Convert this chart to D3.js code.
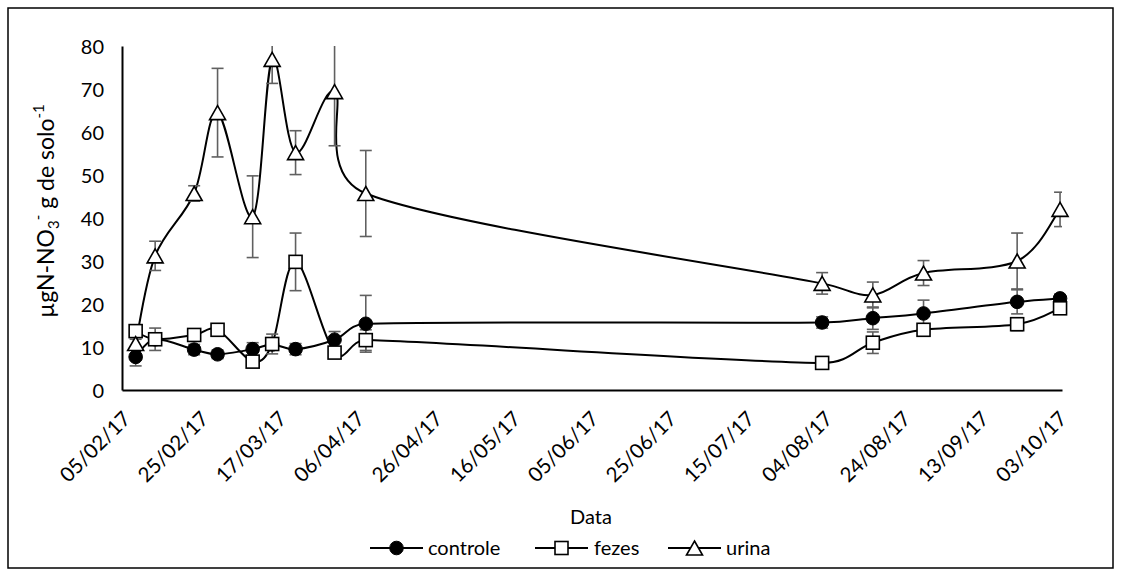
<!DOCTYPE html>
<html>
<head>
<meta charset="utf-8">
<script src="https://cdn.jsdelivr.net/npm/d3@7"></script>
<style>
  html, body { margin: 0; padding: 0; background: #fff; }
  svg text { font-family: Lato, "Open Sans", "Liberation Sans", sans-serif; fill: #000; }
</style>
</head>
<body>
<svg id="chart" width="1121" height="577"></svg>
<script>
// Sampling dates (dd/mm/yy)
const sampleDates = ["08/02/17", "13/02/17", "23/02/17", "01/03/17", "10/03/17", "15/03/17", "21/03/17",
                     "31/03/17", "08/04/17", "03/08/17", "16/08/17", "29/08/17", "22/09/17", "03/10/17"];

// µg N-NO3- per g of soil, mean and error per treatment
const controle    = [7.7, 11.8, 9.4, 8.3, 9.5, 10.6, 9.5, 11.7, 15.4, 15.7, 16.7, 17.8, 20.5, 21.3];
const controleErr = [2.1, 1.0, 1.2, 1.0, 1.5, 1.0, 1.3, 1.9, 6.6, 1.3, 2.6, 3.1, 2.8, 1.0];
const fezes       = [13.7, 11.8, 12.8, 14.0, 6.6, 10.7, 29.8, 8.7, 11.6, 6.3, 11.0, 14.0, 15.3, 19.0];
const fezesErr    = [1.0, 2.6, 1.2, 1.0, 1.0, 2.3, 6.7, 1.0, 2.4, 1.0, 2.5, 1.0, 1.5, 1.0];
const urina       = [10.8, 31.2, 45.7, 64.5, 40.3, 76.9, 55.2, 69.4, 45.7, 24.8, 22.1, 27.2, 30.0, 42.0];
const urinaErr    = [1.0, 3.4, 1.8, 10.3, 9.5, 5.6, 5.1, 12.6, 10.0, 2.5, 3.0, 2.9, 6.5, 4.0];

// Axis labels
const xTickLabels = ["05/02/17", "25/02/17", "17/03/17", "06/04/17", "26/04/17", "16/05/17", "05/06/17",
                     "25/06/17", "15/07/17", "04/08/17", "24/08/17", "13/09/17", "03/10/17"];
const yTicks = [0, 10, 20, 30, 40, 50, 60, 70, 80];
const seriesNames = ["controle", "fezes", "urina"];

const parse = d3.timeParse("%d/%m/%y");
const fmt = d3.timeFormat("%d/%m/%y");

const svg = d3.select("#chart");
const plot = { left: 122, right: 1062, top: 46, bottom: 390 };

// Each day occupies one slot on the date axis; values sit at the slot centre.
const x = d3.scaleTime()
  .domain([parse("05/02/17"), d3.timeDay.offset(parse("03/10/17"), 1)])
  .range([plot.left, plot.right]);
const xc = d => x(d3.timeHour.offset(d, 12));
const y = d3.scaleLinear().domain([0, 80]).range([plot.bottom, plot.top]);

// Outer frame
svg.append("rect")
  .attr("x", 8).attr("y", 8).attr("width", 1105).attr("height", 560)
  .attr("fill", "none").attr("stroke", "#000").attr("stroke-width", 1.5);

svg.append("clipPath").attr("id", "plotClip")
  .append("rect")
  .attr("x", plot.left).attr("y", plot.top)
  .attr("width", plot.right - plot.left).attr("height", plot.bottom - plot.top);

// Y axis
const yAxis = svg.append("g")
  .attr("transform", `translate(${plot.left},0)`)
  .call(d3.axisLeft(y).tickValues(yTicks).tickSize(0).tickSizeOuter(0).tickPadding(18));
yAxis.select(".domain").attr("stroke", "#000").attr("stroke-width", 2);
yAxis.selectAll(".tick text")
  .attr("font-size", 20).attr("font-family", "Lato, sans-serif").attr("fill", "#000").attr("dy", "0.35em");

// X axis
const tickDates = xTickLabels.map(parse);
const xAxis = svg.append("g")
  .attr("transform", `translate(0,${plot.bottom})`)
  .call(d3.axisBottom(x).tickValues(tickDates).tickFormat(fmt).tickSize(0).tickSizeOuter(0));
xAxis.select(".domain").attr("stroke", "#000").attr("stroke-width", 2);
xAxis.selectAll(".tick")
  .attr("transform", d => `translate(${xc(d)},0)`);
xAxis.selectAll(".tick text")
  .attr("font-size", 20.5).attr("font-family", "Lato, sans-serif").attr("fill", "#000")
  .attr("x", 0).attr("y", 0).attr("dy", 0)
  .attr("text-anchor", "end")
  .attr("transform", "translate(8,30) rotate(-45)");

// Axis titles
svg.append("text")
  .attr("x", 591).attr("y", 524)
  .attr("text-anchor", "middle").attr("font-size", 20)
  .text("Data");

const yTitle = svg.append("text")
  .attr("transform", "translate(54,211) rotate(-90)")
  .attr("text-anchor", "middle").attr("font-size", 23);
yTitle.append("tspan").text("µgN-NO");
yTitle.append("tspan").attr("font-size", 15).attr("dy", 5).text("3");
yTitle.append("tspan").attr("font-size", 15).attr("dy", -16).text("-");
yTitle.append("tspan").attr("dy", 11).text(" g de solo");
yTitle.append("tspan").attr("font-size", 15).attr("dy", -10).text("-1");

// Smoothed path through points: cubic Bézier with tangents from the neighbours,
// arm lengths limited to half of the segment.
function smoothPath(pts) {
  const p = d3.path();
  const n = pts.length;
  const dist = (a, b) => Math.hypot(a[0] - b[0], a[1] - b[1]);
  p.moveTo(pts[0][0], pts[0][1]);
  for (let i = 0; i < n - 1; i++) {
    const p0 = pts[Math.max(i - 1, 0)], p1 = pts[i], p2 = pts[i + 1], p3 = pts[Math.min(i + 2, n - 1)];
    const d12 = dist(p1, p2), d02 = dist(p0, p2), d13 = dist(p1, p3);
    let f = 1 / 6, g = 1 / 6;
    if (d02 > 0 && d02 / 6 >= d12 / 2) f = d12 / (2 * d02);
    if (d13 > 0 && d13 / 6 >= d12 / 2) g = d12 / (2 * d13);
    const c1 = [p1[0] + f * (p2[0] - p0[0]), p1[1] + f * (p2[1] - p0[1])];
    const c2 = [p2[0] - g * (p3[0] - p1[0]), p2[1] - g * (p3[1] - p1[1])];
    p.bezierCurveTo(c1[0], c1[1], c2[0], c2[1], p2[0], p2[1]);
  }
  return p.toString();
}

const dates = sampleDates.map(parse);
const series = [
  { name: "controle", values: controle, err: controleErr, marker: "circle" },
  { name: "fezes", values: fezes, err: fezesErr, marker: "square" },
  { name: "urina", values: urina, err: urinaErr, marker: "triangle" }
];
series.forEach(s => {
  s.pts = s.values.map((v, i) => ({ x: xc(dates[i]), y: y(v), lo: y(v - s.err[i]), hi: y(v + s.err[i]) }));
});

const plotG = svg.append("g");

// Lines
series.forEach(s => {
  plotG.append("path")
    .attr("d", smoothPath(s.pts.map(p => [p.x, p.y])))
    .attr("fill", "none").attr("stroke", "#000").attr("stroke-width", 2);
});

// Error bars (clipped to the plot area)
const errG = plotG.append("g").attr("clip-path", "url(#plotClip)");
const capW = 6;
series.forEach(s => {
  const g = errG.append("g").attr("stroke", "#606060").attr("stroke-width", 1.6);
  s.pts.forEach(p => {
    g.append("line").attr("x1", p.x).attr("x2", p.x).attr("y1", p.lo).attr("y2", p.hi);
    g.append("line").attr("x1", p.x - capW).attr("x2", p.x + capW).attr("y1", p.lo).attr("y2", p.lo);
    g.append("line").attr("x1", p.x - capW).attr("x2", p.x + capW).attr("y1", p.hi).attr("y2", p.hi);
  });
});

// Markers
function drawMarker(g, type, cx, cy) {
  if (type === "circle") {
    g.append("circle").attr("cx", cx).attr("cy", cy).attr("r", 6.8)
      .attr("fill", "#000").attr("stroke", "#000").attr("stroke-width", 1);
  } else if (type === "square") {
    g.append("rect").attr("x", cx - 6.5).attr("y", cy - 6.5).attr("width", 13).attr("height", 13)
      .attr("fill", "#fff").attr("stroke", "#000").attr("stroke-width", 1.6);
  } else {
    const w = 8, h = 7;
    g.append("path")
      .attr("d", `M${cx},${cy - h}L${cx + w},${cy + h}L${cx - w},${cy + h}Z`)
      .attr("fill", "#fff").attr("stroke", "#000").attr("stroke-width", 1.6)
      .attr("stroke-linejoin", "miter");
  }
}
series.forEach(s => {
  const g = plotG.append("g");
  s.pts.forEach(p => drawMarker(g, s.marker, p.x, p.y));
});

// Legend
const legendItems = [
  { x: 370, textX: 428 },
  { x: 535, textX: 594 },
  { x: 668, textX: 726 }
];
const legendY = 548;
series.forEach((s, i) => {
  const it = legendItems[i];
  const g = svg.append("g");
  g.append("line").attr("x1", it.x).attr("x2", it.x + 53).attr("y1", legendY).attr("y2", legendY)
    .attr("stroke", "#000").attr("stroke-width", 2);
  drawMarker(g, s.marker, it.x + 26.5, legendY);
  g.append("text").attr("x", it.textX).attr("y", legendY).attr("dy", "0.35em")
    .attr("font-size", 20).text(seriesNames[i]);
});
</script>
</body>
</html>
